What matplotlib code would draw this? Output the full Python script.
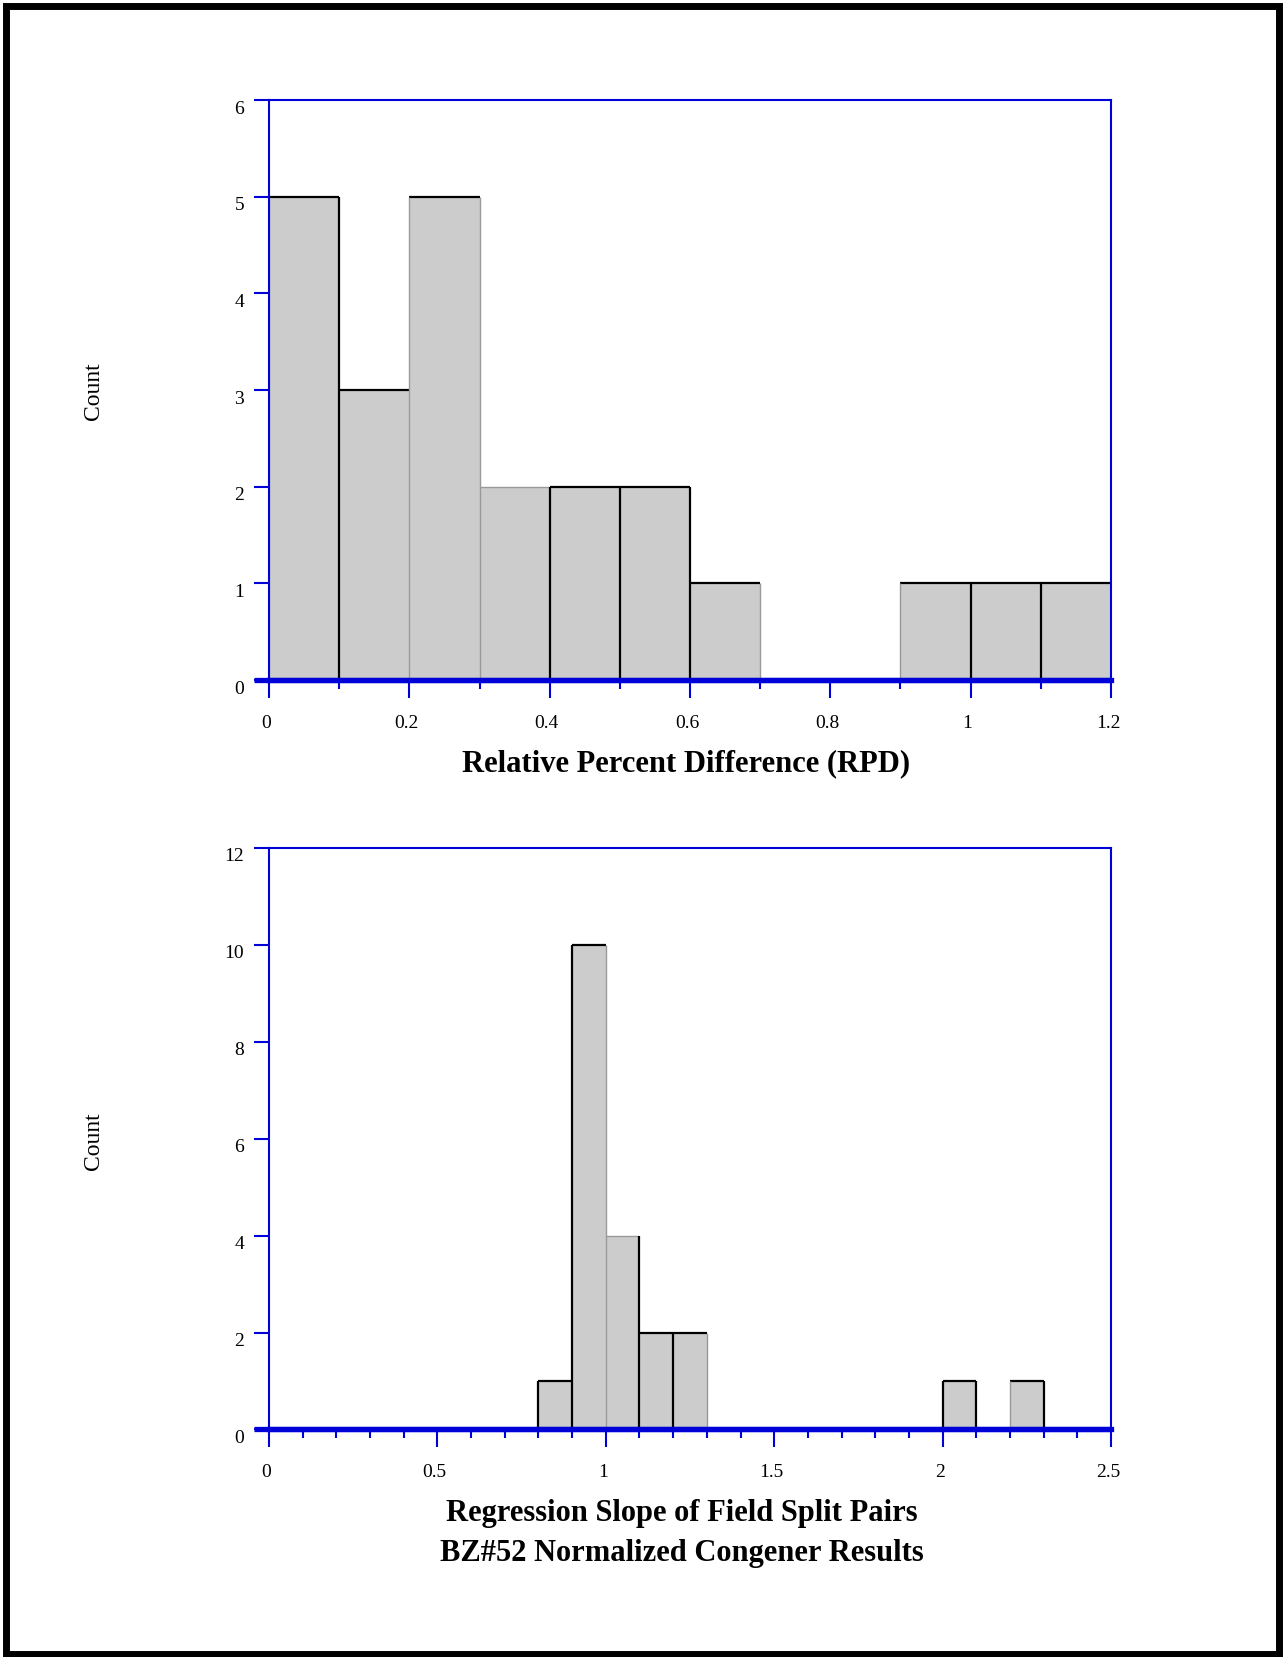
import numpy as np
import matplotlib
matplotlib.use('Agg')
import matplotlib.pyplot as plt
from matplotlib.patches import Rectangle
from matplotlib.transforms import ScaledTranslation

# RPD histogram (bin width 0.1)
rpd_bin_left = [0.0, 0.1, 0.2, 0.3, 0.4, 0.5, 0.6, 0.7, 0.8, 0.9, 1.0, 1.1]
rpd_counts = [5, 3, 5, 2, 2, 2, 1, 0, 0, 1, 1, 1]
rpd_xticks = [0.0, 0.2, 0.4, 0.6, 0.8, 1.0, 1.2]
rpd_xticklabels = ['0', '0.2', '0.4', '0.6', '0.8', '1', '1.2']
rpd_yticks = [0, 1, 2, 3, 4, 5, 6]

# regression slope histogram (bin width 0.1)
slope_bin_left = [0.8, 0.9, 1.0, 1.1, 1.2, 2.0, 2.2]
slope_counts = [1, 10, 4, 2, 2, 1, 1]
slope_xticks = [0.0, 0.5, 1.0, 1.5, 2.0, 2.5]
slope_xticklabels = ['0', '0.5', '1', '1.5', '2', '2.5']
slope_yticks = [0, 2, 4, 6, 8, 10, 12]

BIN_W = 0.1
BLUE = '#0000d8'
FILL = '#cccccc'
SERIF = ['Liberation Serif', 'DejaVu Serif']

plt.rcParams['font.family'] = SERIF


def draw_hist(ax, lefts, counts, dark_edges, light_tops):
    ax.bar(lefts, counts, width=BIN_W, align='edge', color=FILL,
           linewidth=0, zorder=1)
    # top edge of every bar
    for x, c in zip(lefts, counts):
        if c <= 0:
            continue
        col = '#999999' if round(x, 2) in light_tops else 'black'
        lw = 1.0 if col != 'black' else 1.6
        ax.plot([x, x + BIN_W], [c, c], color=col, lw=lw, zorder=2,
                solid_capstyle='butt')
    # vertical separators
    heights = {}
    for x, c in zip(lefts, counts):
        for e in (round(x, 2), round(x + BIN_W, 2)):
            heights[e] = max(heights.get(e, 0), c)
    for e, h in heights.items():
        if h <= 0:
            continue
        dark = e in dark_edges
        ax.plot([e, e], [0, h], color='black' if dark else '#999999',
                lw=1.6 if dark else 1.0, zorder=2, solid_capstyle='butt')


def style_axes(ax, xmax, ymax, xticks, xlabels, xminor, yticks):
    ax.set_xlim(0, xmax)
    ax.set_ylim(0, ymax)
    for side in ('left', 'top', 'right'):
        ax.spines[side].set_color(BLUE)
        ax.spines[side].set_linewidth(1.5)
    ax.spines['bottom'].set_color(BLUE)
    ax.spines['bottom'].set_linewidth(3.8)
    ax.spines['bottom'].set_zorder(3)
    # baseline runs a little past the left spine
    ax.plot([-15 / 842, 1], [0, 0], transform=ax.transAxes, color=BLUE,
            lw=3.8, clip_on=False, zorder=3, solid_capstyle='butt')

    ax.set_xticks(xticks)
    ax.set_xticklabels(xlabels)
    ax.set_xticks(xminor, minor=True)
    ax.set_yticks(yticks)
    ax.set_yticklabels([str(v) for v in yticks])
    ax.tick_params(axis='x', which='major', direction='out', length=13,
                   width=1.5, color=BLUE, pad=12, labelsize=14)
    ax.tick_params(axis='x', which='minor', direction='out', length=6.5,
                   width=1.5, color=BLUE)
    ax.tick_params(axis='y', which='major', direction='out', length=10.8,
                   width=1.5, color=BLUE, pad=7, labelsize=14)
    yshift = ScaledTranslation(0, -7 / 100, ax.figure.dpi_scale_trans)
    for lab in ax.get_yticklabels():
        lab.set_transform(lab.get_transform() + yshift)
    xshift = ScaledTranslation(-3 / 100, 0, ax.figure.dpi_scale_trans)
    for lab in ax.get_xticklabels():
        lab.set_transform(lab.get_transform() + xshift)


fig = plt.figure(figsize=(12.86, 16.57), dpi=100)

# page frame
fig.patches.append(Rectangle((6.3 / 1286, 1 - 1654 / 1657),
                             (1278.7 - 6.3) / 1286, (1654 - 6.3) / 1657,
                             transform=fig.transFigure, fill=False,
                             edgecolor='black', linewidth=5))

ax1 = fig.add_axes([0.2092, 0.5896, 0.6547, 0.3500])
draw_hist(ax1, rpd_bin_left, rpd_counts,
          dark_edges={0.1, 0.4, 0.5, 0.6, 1.0, 1.1}, light_tops={0.3})
style_axes(ax1, 1.2, 6, rpd_xticks, rpd_xticklabels,
           [0.1, 0.3, 0.5, 0.7, 0.9, 1.1], rpd_yticks)

ax2 = fig.add_axes([0.2092, 0.1373, 0.6547, 0.3511])
draw_hist(ax2, slope_bin_left, slope_counts,
          dark_edges={0.8, 0.9, 1.1, 1.2, 2.0, 2.1, 2.3}, light_tops={1.0})
style_axes(ax2, 2.5, 12, slope_xticks, slope_xticklabels,
           [round(0.1 * i, 1) for i in range(1, 25) if i % 5], slope_yticks)

# axis titles
fig.text(94 / 1286, 1 - 391 / 1657, 'Count', rotation=90, ha='center',
         va='center', fontsize=17)
fig.text(94 / 1286, 1 - 1141 / 1657, 'Count', rotation=90, ha='center',
         va='center', fontsize=17)
fig.text(686 / 1286, 1 - 771.5 / 1657, 'Relative Percent Difference (RPD)',
         ha='center', va='baseline', fontsize=22, fontweight='bold')
fig.text(682 / 1286, 1 - 1521.5 / 1657, 'Regression Slope of Field Split Pairs',
         ha='center', va='baseline', fontsize=22, fontweight='bold')
fig.text(682 / 1286, 1 - 1561.5 / 1657, 'BZ#52 Normalized Congener Results',
         ha='center', va='baseline', fontsize=22, fontweight='bold')

fig.savefig('out.png', dpi=100)
